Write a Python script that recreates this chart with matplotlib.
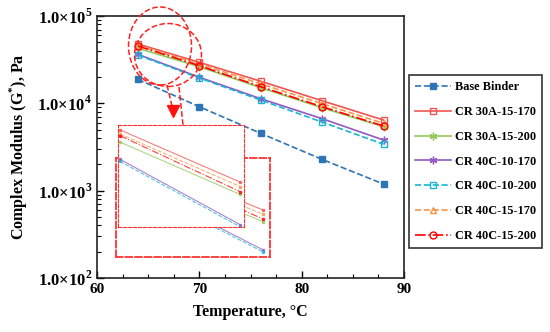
import numpy as np
import matplotlib
matplotlib.use("Agg")
import matplotlib.pyplot as plt
from matplotlib.ticker import FixedLocator, FuncFormatter, LogLocator, NullFormatter
from matplotlib.patches import Ellipse
from matplotlib.lines import Line2D

plt.rcParams['font.family'] = ['Liberation Serif', 'DejaVu Serif']
plt.rcParams['font.weight'] = 'bold'
plt.rcParams['mathtext.fontset'] = 'custom'
plt.rcParams['mathtext.rm'] = 'Liberation Serif'
plt.rcParams['mathtext.bf'] = 'Liberation Serif:bold'

# data
temps = [64, 70, 76, 82, 88]
base_binder = [18800, 9140, 4530, 2280, 1190]
cr30a_15_170 = [47800, 29500, 17900, 10700, 6440]
cr30a_15_200 = [42700, 26300, 15100, 8900, 5400]
cr40c_10_170 = [36400, 19900, 11300, 6670, 3800]
cr40c_10_200 = [35700, 19500, 10900, 6100, 3400]
cr40c_15_170 = [46000, 28300, 16700, 9900, 5900]
cr40c_15_200 = [45300, 27000, 15500, 9140, 5500]

labels = ['Base Binder', 'CR 30A-15-170', 'CR 30A-15-200', 'CR 40C-10-170',
          'CR 40C-10-200', 'CR 40C-15-170', 'CR 40C-15-200']
series = [base_binder, cr30a_15_170, cr30a_15_200, cr40c_10_170,
          cr40c_10_200, cr40c_15_170, cr40c_15_200]
colors = ['#2E75B6', '#EE5552', '#92C95A', '#9359C0', '#19B5D6', '#F79646', '#FF0000']
styles = ['--', '-', '-', '-', '--', '--', '-.']
markers = ['s', 's', (6, 2, 0), (6, 2, 0), 's', '^', 'o']
filled = [True, False, True, True, False, False, False]

W, H = 550, 332


def px(x, y):
    # pixel (top-left origin) -> figure fraction
    return x / W, 1 - y / H


def box(x0, y0, x1, y1):
    return [x0 / W, 1 - y1 / H, (x1 - x0) / W, (y1 - y0) / H]


fig = plt.figure(figsize=(5.5, 3.32), dpi=100)
ax = fig.add_axes(box(97, 16, 404, 278))

for lab, vals, c, ls, m, f in zip(labels, series, colors, styles, markers, filled):
    ax.plot(temps, vals, linestyle=ls, color=c, marker=m, lw=1.2,
            markersize=5 if m != (6, 2, 0) else 5.5,
            markerfacecolor=c if f else 'none', markeredgecolor=c,
            markeredgewidth=1.0, label=lab, zorder=3)

ax.set_yscale('log')
ax.set_xlim(60, 90)
ax.set_ylim(1e2, 1e5)
ax.xaxis.set_major_locator(FixedLocator([60, 70, 80, 90]))
ax.xaxis.set_minor_locator(FixedLocator(np.arange(60, 90.1, 2.5)))
ax.yaxis.set_major_locator(LogLocator(base=10, numticks=10))
ax.yaxis.set_minor_locator(LogLocator(base=10, subs=np.arange(2, 10), numticks=20))
ax.yaxis.set_minor_formatter(NullFormatter())
ax.yaxis.set_major_formatter(FuncFormatter(
    lambda v, p: '1.0×10$^{\\mathbf{%d}}$' % round(np.log10(v))))
ax.tick_params(which='both', direction='in', top=False, right=False)
ax.tick_params(axis='x', labelsize=11)
ax.tick_params(axis='y', labelsize=12)
ax.tick_params(which='major', length=5, width=1.0)
ax.tick_params(which='minor', length=3, width=0.8)
for s in ax.spines.values():
    s.set_linewidth(1.2)
    s.set_color('#222222')

ax.set_xlabel('Temperature, °C', fontsize=11.5, fontweight='bold', labelpad=6)
ax.set_ylabel('Complex Modulus (G$^{*}$), Pa', fontsize=11.5, fontweight='bold', labelpad=6)

leg = ax.legend(loc='upper left', bbox_to_anchor=px(409, 75), bbox_transform=fig.transFigure,
                borderaxespad=0, fontsize=8.8, handlelength=2.9, labelspacing=1.05,
                fancybox=False, edgecolor='#333333', framealpha=1, borderpad=0.5,
                handletextpad=0.35, numpoints=1)
leg.get_frame().set_linewidth(1.2)
for t in leg.get_texts():
    t.set_fontweight('bold')

# zoom insets (back one with dashed frame, front one on top)
inset_specs = [
    (box(116, 158, 270, 257), (62.65, 70.35), (10 ** 4.268, 10 ** 4.693), '--', 1.3),
    (box(118, 125, 244, 227), (63.9, 70.2), (10 ** 4.289, 10 ** 4.699), (0, (3, 1.5)), 0.8),
]
for rect, xl, yl, sls, slw in inset_specs:
    ins = fig.add_axes(rect, zorder=5)
    for vals, c, ls in zip(series[1:], colors[1:], styles[1:]):
        ins.plot(temps[:2], vals[:2], linestyle=ls, color=c, lw=0.8, alpha=0.75,
                 marker='s', markersize=1.5)
    ins.set_yscale('log')
    ins.set_xlim(*xl)
    ins.set_ylim(*yl)
    ins.set_xticks([])
    ins.set_yticks([])
    ins.minorticks_off()
    for s in ins.spines.values():
        s.set_color('#FF3333')
        s.set_linestyle(sls)
        s.set_linewidth(slw)

# dashed circles and arrow pointing to the inset
for (cx, cy, ew, eh) in [(160, 46, 63, 78), (168, 55, 67, 63)]:
    e = Ellipse(px(cx, cy), ew / W, eh / H, transform=fig.transFigure, fill=False,
                edgecolor='#FF2020', linestyle='--', lw=1.1, zorder=6)
    fig.add_artist(e)
for (x0, y0, x1, y1) in [(167, 85, 172, 106), (179, 87, 183, 125)]:
    a, b = px(x0, y0)
    c, d = px(x1, y1)
    fig.add_artist(Line2D([a, c], [b, d], transform=fig.transFigure, color='#FF2020',
                          ls='--', lw=1.1, zorder=6))
tx, ty = px(172.5, 111)
fig.add_artist(Line2D([tx], [ty], transform=fig.transFigure, marker='v', markersize=8,
                      color='#FF1010', zorder=6))

fig.savefig('out.png', dpi=100)
